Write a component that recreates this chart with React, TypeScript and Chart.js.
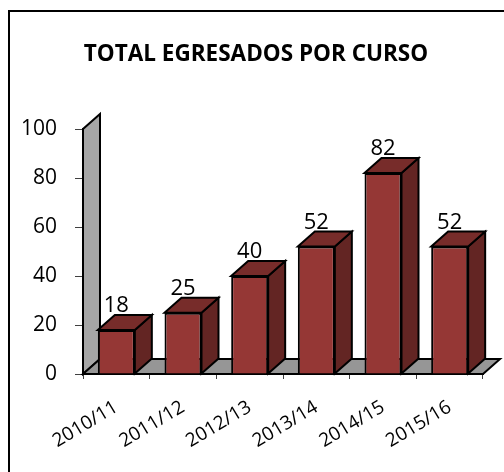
import React, { useEffect, useRef } from 'react';
import { Chart, registerables } from 'chart.js';

Chart.register(...registerables);

const categories = ['2010/11', '2011/12', '2012/13', '2013/14', '2014/15', '2015/16'];
const values = [18, 25, 40, 52, 82, 52];
const yMin = 0;
const yMax = 100;
const yStep = 20;
const chartTitle = 'TOTAL EGRESADOS POR CURSO';

const DX = 17;
const DY = 15;

function poly(ctx: CanvasRenderingContext2D, pts: number[][], fill: string) {
  ctx.beginPath();
  ctx.moveTo(pts[0][0], pts[0][1]);
  for (let i = 1; i < pts.length; i++) ctx.lineTo(pts[i][0], pts[i][1]);
  ctx.closePath();
  ctx.fillStyle = fill;
  ctx.fill();
  ctx.stroke();
}

const bar3d = {
  id: 'bar3d',
  beforeDatasetsDraw(chart: any) {
    const ctx = chart.ctx as CanvasRenderingContext2D;
    const xs = chart.scales.x;
    const ys = chart.scales.y;
    const y0 = ys.getPixelForValue(yMin);
    const yT = ys.getPixelForValue(yMax);
    const l = xs.left;
    const r = xs.right;
    ctx.save();
    ctx.lineJoin = 'miter';
    ctx.strokeStyle = '#000';
    ctx.lineWidth = 2;
    poly(ctx, [[l, y0], [l, yT], [l + DX, yT - DY], [l + DX, y0 - DY]], '#a6a6a6');
    poly(ctx, [[l, y0], [r, y0], [r + DX, y0 - DY], [l + DX, y0 - DY]], '#969696');
    const meta = chart.getDatasetMeta(0);
    meta.data.forEach((bar: any) => {
      const p = bar.getProps(['x', 'y', 'base', 'width'], true);
      const bl = p.x - p.width / 2;
      const br = p.x + p.width / 2;
      poly(ctx, [[br, p.y], [br + DX, p.y - DY], [br + DX, p.base - DY], [br, p.base]], '#632523');
      poly(ctx, [[bl, p.y], [bl + DX, p.y - DY], [br + DX, p.y - DY], [br, p.y]], '#772c2a');
    });
    ctx.restore();
  },
  afterDatasetsDraw(chart: any) {
    const ctx = chart.ctx as CanvasRenderingContext2D;
    const meta = chart.getDatasetMeta(0);
    ctx.save();
    ctx.font = '22px "Open Sans"';
    ctx.fillStyle = '#000';
    ctx.textAlign = 'center';
    ctx.textBaseline = 'alphabetic';
    meta.data.forEach((bar: any, i: number) => {
      const p = bar.getProps(['x', 'y'], true);
      ctx.fillText(String(values[i]), p.x, p.y - DY - 3);
    });
    ctx.restore();
  },
};

export default function App() {
  const ref = useRef<HTMLCanvasElement>(null);
  useEffect(() => {
    if (!ref.current) return;
    const chart = new Chart(ref.current, {
      type: 'bar',
      data: {
        labels: categories,
        datasets: [
          {
            data: values,
            backgroundColor: '#953735',
            borderColor: '#000',
            borderWidth: 2,
            barPercentage: 0.555,
            categoryPercentage: 1,
          },
        ],
      },
      options: {
        responsive: false,
        animation: false,
        devicePixelRatio: 1,
        layout: { autoPadding: false, padding: { left: 0, right: 0, top: 0, bottom: 0 } },
        plugins: {
          legend: { display: false },
          tooltip: { enabled: false },
          title: {
            display: true,
            text: chartTitle,
            color: '#000',
            font: { family: 'Open Sans', size: 22.5, weight: 'bold' },
            padding: { top: 33, bottom: 61 },
          },
        },
        scales: {
          x: {
            afterFit: (s: any) => { s.height = 98; },
            border: { display: true, color: '#000', width: 2 },
            grid: { drawOnChartArea: false, tickLength: 5, color: '#404040', lineWidth: 1, offset: true },
            ticks: {
              color: '#000',
              font: { family: 'Open Sans', size: 19 },
              minRotation: 31,
              maxRotation: 31,
              padding: 17,
            },
          },
          y: {
            min: yMin,
            max: yMax,
            afterFit: (s: any) => { s.width = 75; },
            border: { display: true, color: '#000', width: 2 },
            grid: { drawOnChartArea: false, tickLength: 8, color: '#404040', lineWidth: 1 },
            ticks: {
              stepSize: yStep,
              color: '#000',
              font: { family: 'Open Sans', size: 21 },
              padding: 18,
            },
          },
          yRightSpace: {
            type: 'linear',
            position: 'right',
            display: true,
            afterFit: (s: any) => { s.width = 21; },
            border: { display: false },
            grid: { display: false },
            ticks: { display: false },
          },
        },
      },
      plugins: [bar3d],
    });
    return () => chart.destroy();
  }, []);
  return (
    <>
      <div
        style={{
          position: 'fixed',
          left: 8,
          top: 10,
          width: 600,
          height: 600,
          borderLeft: '2px solid #000',
          borderTop: '2px solid #000',
        }}
      />
      <canvas
        ref={ref}
        width={496}
        height={464}
        style={{ position: 'fixed', left: 8, top: 8, width: 496, height: 464 }}
      />
    </>
  );
}
